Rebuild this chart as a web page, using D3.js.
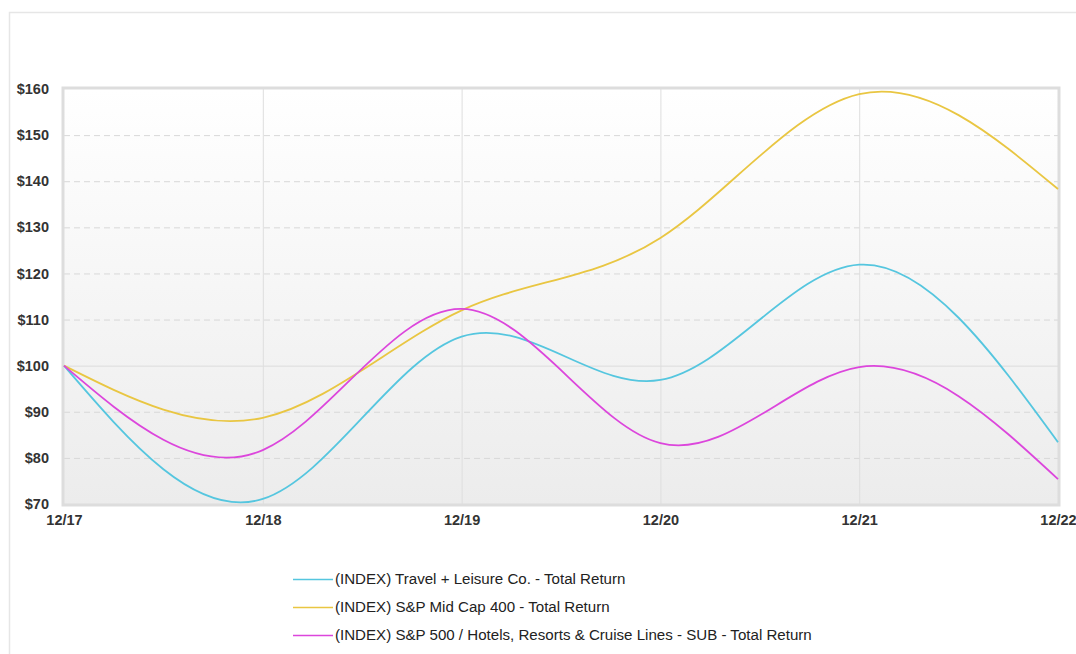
<!DOCTYPE html>
<html>
<head>
<meta charset="utf-8">
<script src="https://cdn.jsdelivr.net/npm/d3@7"></script>
<style>
  html, body { margin: 0; padding: 0; background: #fff; }
  svg { display: block; font-family: Arial, "Liberation Sans", sans-serif; }
</style>
</head>
<body>
<svg id="chart" width="1076" height="654"></svg>
<script>
// Period labels along the x axis
const periods = ["12/17", "12/18", "12/19", "12/20", "12/21", "12/22"];

// Cumulative total return of $100 invested, per index
const travelLeisure = [100, 71.1, 106.3, 96.9, 121.9, 83.4];
const midCap400 = [100, 88.7, 112.0, 127.7, 158.9, 138.3];
const hotelsCruise = [100, 81.7, 112.3, 83.2, 99.7, 75.4];

const seriesNames = [
  "(INDEX) Travel + Leisure Co. - Total Return",
  "(INDEX) S&P Mid Cap 400 - Total Return",
  "(INDEX) S&P 500 / Hotels, Resorts & Cruise Lines - SUB - Total Return"
];
const seriesColors = ["#55c6df", "#e9c642", "#dc46dc"];

// Y axis ticks
const yTicks = [70, 80, 90, 100, 110, 120, 130, 140, 150, 160];

const series = [travelLeisure, midCap400, hotelsCruise].map((values, i) => ({
  name: seriesNames[i],
  color: seriesColors[i],
  values
}));

const svg = d3.select("#chart");
const plot = { left: 64, right: 1058, top: 89, bottom: 504 };

// Outer frame
svg.append("rect")
  .attr("x", 9.5).attr("y", 12.5)
  .attr("width", 1100).attr("height", 700)
  .attr("fill", "none").attr("stroke", "#e6e6e6").attr("stroke-width", 1.5);

const x = d3.scalePoint().domain(periods).range([plot.left, plot.right]);
const y = d3.scaleLinear().domain([70, 160]).range([plot.bottom, plot.top]);

// Plot background gradient
const defs = svg.append("defs");
const grad = defs.append("linearGradient")
  .attr("id", "bg").attr("x1", 0).attr("y1", 0).attr("x2", 0).attr("y2", 1);
grad.append("stop").attr("offset", "0%").attr("stop-color", "#ffffff");
grad.append("stop").attr("offset", "100%").attr("stop-color", "#ececec");

svg.append("rect")
  .attr("x", plot.left).attr("y", plot.top)
  .attr("width", plot.right - plot.left).attr("height", plot.bottom - plot.top)
  .attr("fill", "url(#bg)");

// Horizontal grid lines
svg.append("g")
  .selectAll("line")
  .data(yTicks.filter(v => v !== 70 && v !== 160))
  .join("line")
  .attr("x1", plot.left).attr("x2", plot.right)
  .attr("y1", d => y(d) + 0.5).attr("y2", d => y(d) + 0.5)
  .attr("stroke", d => d === 100 ? "#dcdcdc" : "#d8d8d8")
  .attr("stroke-width", 1)
  .attr("stroke-dasharray", d => d === 100 ? null : "6,4");

// Vertical grid lines
svg.append("g")
  .selectAll("line")
  .data(periods.slice(1, -1))
  .join("line")
  .attr("x1", d => x(d) + 0.5).attr("x2", d => x(d) + 0.5)
  .attr("y1", plot.top).attr("y2", plot.bottom)
  .attr("stroke", "#dedede").attr("stroke-width", 1);

// Plot border
svg.append("rect")
  .attr("x", plot.left - 1).attr("y", plot.top - 1)
  .attr("width", plot.right - plot.left + 2).attr("height", plot.bottom - plot.top + 2)
  .attr("fill", "none").attr("stroke", "#dddddd").attr("stroke-width", 3);

// Y axis labels
const yAxis = d3.axisLeft(y).tickValues(yTicks).tickFormat(d => "$" + d).tickSize(0).tickPadding(15);
svg.append("g")
  .attr("transform", `translate(${plot.left},0)`)
  .call(yAxis)
  .call(g => g.select(".domain").remove())
  .call(g => g.selectAll("text")
    .attr("font-size", 14.5).attr("font-weight", "bold")
    .attr("fill", "#333").attr("font-family", "Arial, 'Liberation Sans', sans-serif"));

// X axis labels
const xAxis = d3.axisBottom(x).tickSize(0).tickPadding(11);
svg.append("g")
  .attr("transform", `translate(0,${plot.bottom})`)
  .call(xAxis)
  .call(g => g.select(".domain").remove())
  .call(g => g.selectAll("text")
    .attr("font-size", 14.5).attr("font-weight", "bold")
    .attr("fill", "#333").attr("font-family", "Arial, 'Liberation Sans', sans-serif"));

// Series lines
const line = d3.line()
  .x((d, i) => x(periods[i]))
  .y(d => y(d))
  .curve(d3.curveNatural);

svg.append("g")
  .selectAll("path")
  .data(series)
  .join("path")
  .attr("d", d => line(d.values))
  .attr("fill", "none")
  .attr("stroke", d => d.color)
  .attr("stroke-width", 1.8);

// Legend
const legend = svg.append("g").attr("transform", "translate(293,579)");
const rows = legend.selectAll("g")
  .data(series)
  .join("g")
  .attr("transform", (d, i) => `translate(0,${i * 28})`);
rows.append("line")
  .attr("x1", 0).attr("x2", 40).attr("y1", 0.5).attr("y2", 0.5)
  .attr("stroke", d => d.color).attr("stroke-width", 1.5);
rows.append("text")
  .attr("x", 42).attr("y", 0).attr("dy", "0.35em")
  .attr("font-size", 15.1).attr("fill", "#222")
  .text(d => d.name);
</script>
</body>
</html>
